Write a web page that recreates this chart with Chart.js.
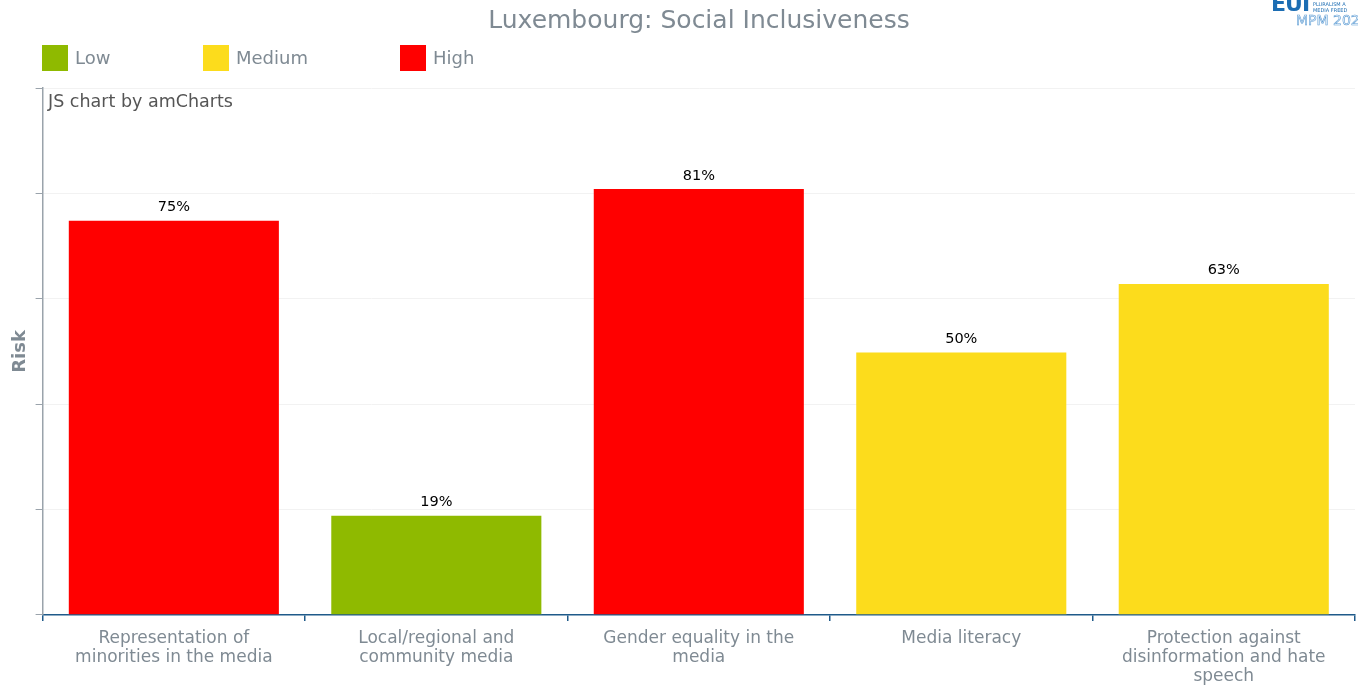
<!DOCTYPE html>
<html>
<head>
<meta charset="utf-8">
<script src="https://cdn.jsdelivr.net/npm/chart.js@4"></script>
<style>
  body { margin: 0; background: #fff; font-family: Verdana, "DejaVu Sans", sans-serif; }
  #wrap { position: relative; width: 1358px; height: 687px; overflow: hidden; }
  #title { position: absolute; top: 5px; left: 0; width: 1398px; text-align: center; font-size: 25px; color: #7f8a93; }
  .leg { position: absolute; top: 45px; font-size: 18px; color: #7f8a93; line-height: 26px; }
  .leg span { display: inline-block; width: 26px; height: 26px; vertical-align: top; margin-right: 7px; }
  #credit { position: absolute; left: 48px; top: 91px; font-size: 17.5px; color: #555; }
  #logo1 { position: absolute; left: 1271px; top: -9px; font-size: 22px; font-weight: bold; color: #1c6db3; letter-spacing: -1px; }
  #logo2 { position: absolute; left: 1296px; top: 12px; font-size: 14px; color: #fff; white-space: nowrap; -webkit-text-stroke: 0.6px #5a9ad3; }
  #logo3 { position: absolute; left: 1313px; top: 1px; font-size: 5px; color: #1c6db3; line-height: 6px; white-space: nowrap; }
  canvas { position: absolute; left: 0; top: 0; }
</style>
</head>
<body>
<div id="wrap">
  <canvas id="myChart" width="1358" height="694"></canvas>
  <div id="title">Luxembourg: Social Inclusiveness</div>
  <div class="leg" style="left:42px"><span style="background:#8fba00"></span>Low</div>
  <div class="leg" style="left:203px"><span style="background:#fcdc1c"></span>Medium</div>
  <div class="leg" style="left:400px"><span style="background:#ff0000"></span>High</div>
  <div id="credit">JS chart by amCharts</div>
  <div id="logo1">EUI</div>
  <div id="logo3">PLURALISM A<br>MEDIA FREED</div>
  <div id="logo2">MPM 2024</div>
</div>
<script>
const categories = [
	['Representation of', 'minorities in the media'],
	['Local/regional and', 'community media'],
	['Gender equality in the', 'media'],
	['Media literacy'],
	['Protection against', 'disinformation and hate', 'speech'],
];
const riskValues = [75, 19, 81, 50, 63];
const riskLevels = ['High', 'Low', 'High', 'Medium', 'Medium'];
const levelColors = { Low: '#8fba00', Medium: '#fcdc1c', High: '#ff0000' };

// value labels above each bar
const valueLabels = {
	id: 'valueLabels',
	afterDatasetsDraw(chart) {
		const ctx = chart.ctx;
		const meta = chart.getDatasetMeta(0);
		ctx.save();
		ctx.font = '14.5px Verdana, "DejaVu Sans", sans-serif';
		ctx.fillStyle = '#000';
		ctx.textAlign = 'center';
		ctx.textBaseline = 'bottom';
		meta.data.forEach((bar, i) => {
			ctx.fillText(riskValues[i] + '%', bar.x, bar.y - 5);
		});
		ctx.restore();
	},
};

const ctx = document.getElementById('myChart');
const myChart = new Chart(ctx, {
	type: 'bar',
	data: {
		labels: categories,
		datasets: [
			{
				data: riskValues,
				backgroundColor: riskLevels.map((l) => levelColors[l]),
				borderColor: 'rgba(255,255,255,0.25)',
				borderWidth: 1,
				barPercentage: 0.808,
				categoryPercentage: 1,
			},
		],
	},
	options: {
		responsive: false,
		animation: false,
		layout: { padding: { top: 88, left: 6, right: 3, bottom: 0 } },
		plugins: { legend: { display: false }, tooltip: { enabled: false } },
		scales: {
			x: {
				offset: true,
				grid: { offset: true, drawOnChartArea: false, tickLength: 6, tickColor: '#1f5a8a', lineWidth: 1.5 },
				border: { color: '#1f5a8a', width: 1.5 },
				ticks: {
					color: '#7f8a93',
					maxRotation: 0,
					padding: 8,
					font: { family: 'Verdana, "DejaVu Sans", sans-serif', size: 17, lineHeight: 1.12 },
				},
			},
			y: {
				min: 0,
				max: 100,
				ticks: { stepSize: 20, display: false },
				grid: { color: '#f2f2f2', tickColor: '#9aa3ab', tickLength: 7 },
				border: { color: '#9aa3ab', width: 1.5 },
				title: {
					display: true,
					text: 'Risk',
					color: '#7f8a93',
					font: { family: 'Verdana, "DejaVu Sans", sans-serif', size: 18, weight: 'bold' },
				},
			},
		},
	},
	plugins: [valueLabels],
});
</script>
</body>
</html>
